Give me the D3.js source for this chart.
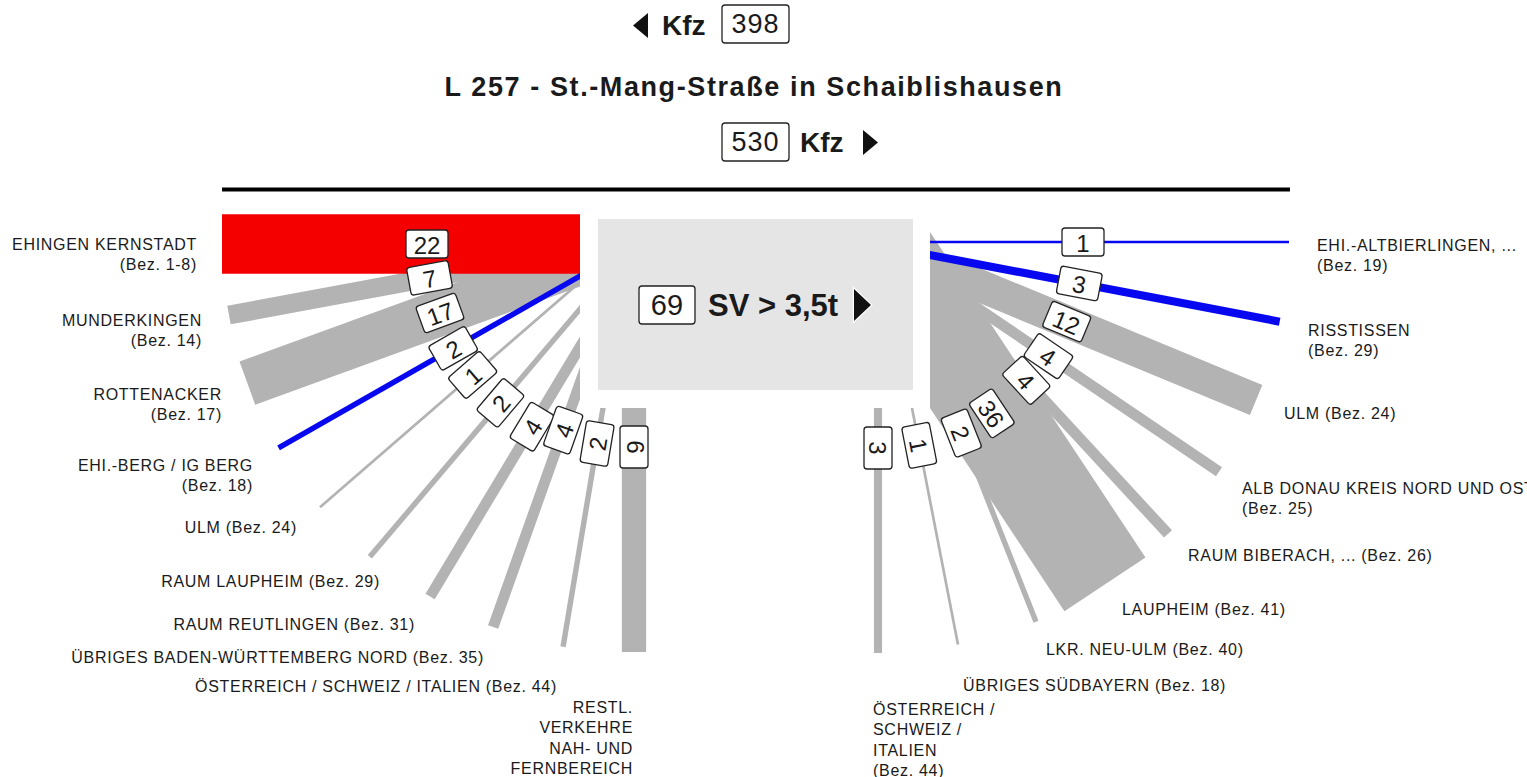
<!DOCTYPE html>
<html>
<head>
<meta charset="utf-8">
<script src="https://cdn.jsdelivr.net/npm/d3@7"></script>
<style>
  body { margin: 0; background: #fff; }
  svg text { font-family: "Liberation Sans", Arial, Helvetica, sans-serif; fill: #1a1a1a; }
  .label { font-size: 16px; letter-spacing: 0.7px; }
  .val { font-size: 24px; }
  .head { font-weight: bold; }
</style>
</head>
<body>
<div id="canvas"></div>
<script>
// DATA
const kfzWest = 398;
const kfzEast = 530;
const svEast = 69;
const titleText = "L 257 - St.-Mang-Straße in Schaiblishausen";

const leftNames = [
  ["EHINGEN KERNSTADT", "(Bez. 1-8)"],
  ["MUNDERKINGEN", "(Bez. 14)"],
  ["ROTTENACKER", "(Bez. 17)"],
  ["EHI.-BERG / IG BERG", "(Bez. 18)"],
  ["ULM (Bez. 24)"],
  ["RAUM LAUPHEIM (Bez. 29)"],
  ["RAUM REUTLINGEN (Bez. 31)"],
  ["ÜBRIGES BADEN-WÜRTTEMBERG NORD (Bez. 35)"],
  ["ÖSTERREICH / SCHWEIZ / ITALIEN (Bez. 44)"],
  ["RESTL.", "VERKEHRE", "NAH- UND", "FERNBEREICH"]
];
const leftValues = [22, 7, 17, 2, 1, 2, 4, 4, 2, 9];

const rightNames = [
  ["EHI.-ALTBIERLINGEN, ...", "(Bez. 19)"],
  ["RISSTISSEN", "(Bez. 29)"],
  ["ULM (Bez. 24)"],
  ["ALB DONAU KREIS NORD UND OST", "(Bez. 25)"],
  ["RAUM BIBERACH, ... (Bez. 26)"],
  ["LAUPHEIM (Bez. 41)"],
  ["LKR. NEU-ULM (Bez. 40)"],
  ["ÜBRIGES SÜDBAYERN (Bez. 18)"],
  ["ÖSTERREICH /", "SCHWEIZ /", "ITALIEN", "(Bez. 44)"]
];
const rightValues = [1, 3, 12, 4, 4, 36, 2, 1, 3];

// LAYOUT (hand placed fan geometry, kept apart from the values)
const width = 1527;
const height = 777;
const frame = { left: 580, right: 930, top: 214, bottom: 408 };

const leftStartAt = [30, 36, 48, 62, 68, 95, 133, 169, 217, 248];
const leftAngle = [180, 169.5, 160, 150.3, 139.1, 130.3, 121, 109.6, 99.5, 90];
const leftLength = [358, 357, 354, 347, 344, 325, 291, 259, 242, 244];
const leftBoxAt = [153, 153, 149, 146, 142, 123, 93, 50, 36, 39];
const leftLabelPos = [[197, 244], [202, 320], [222, 394], [253, 465], [297, 527],
  [380, 581], [415, 624], [484, 657], [557, 686], [633, 707]];

const rightStartAt = [28, 41, 51, 62, 62, 106, 140, 212, 246];
const rightAngle = [0, 10.8, 22.5, 34.1, 47.3, 56.5, 68.4, 79, 90];
const rightLength = [359, 356, 353, 349, 351, 317, 288, 241, 245];
const rightBoxAt = [153, 152, 148, 143, 142, 112, 85, 38, 40];
const rightLabelPos = [[1317, 245], [1308, 330], [1284, 413], [1242, 488], [1188, 555],
  [1122, 609], [1046, 649], [963, 685], [873, 709]];

// STYLE
const GREY = "#b3b3b3", RED = "#f40000", BLUE = "#0808f0";
const leftColor = [RED, GREY, GREY, BLUE, GREY, GREY, GREY, GREY, GREY, GREY];
const rightColor = [BLUE, BLUE, GREY, GREY, GREY, GREY, GREY, GREY, GREY];
const colorRank = c => (c === GREY ? 0 : 1);

// SCALE
const widthScale = d3.scaleLinear()
  .domain([0, d3.max(leftValues.concat(rightValues))])
  .range([0, 2.7 * d3.max(leftValues.concat(rightValues))]);

const side = frame.bottom - frame.top;
function leftStart(p) {
  return p <= side ? [frame.left, frame.top + p] : [frame.left + (p - side), frame.bottom];
}
function rightStart(p) {
  return p <= side ? [frame.right, frame.top + p] : [frame.right - (p - side), frame.bottom];
}

function buildBands(names, values, startAt, angles, lengths, boxAt, colors, startFn, isLeft) {
  return values.map((v, i) => {
    const a = angles[i] * Math.PI / 180;
    const dir = [Math.cos(a), Math.sin(a)];
    const nrm = [-dir[1], dir[0]];
    const s = startFn(startAt[i]);
    const back = [s[0] - dir[0] * 90, s[1] - dir[1] * 90];
    const e = [s[0] + dir[0] * lengths[i], s[1] + dir[1] * lengths[i]];
    const h = widthScale(v) / 2;
    const poly = [
      [back[0] + nrm[0] * h, back[1] + nrm[1] * h],
      [e[0] + nrm[0] * h, e[1] + nrm[1] * h],
      [e[0] - nrm[0] * h, e[1] - nrm[1] * h],
      [back[0] - nrm[0] * h, back[1] - nrm[1] * h]
    ];
    const box = [s[0] + dir[0] * boxAt[i], s[1] + dir[1] * boxAt[i]];
    const rot = isLeft ? angles[i] - 180 : angles[i];
    return { name: names[i], value: v, poly, box, rot, color: colors[i] };
  });
}

const leftBands = buildBands(leftNames, leftValues, leftStartAt, leftAngle, leftLength,
  leftBoxAt, leftColor, leftStart, true);
const rightBands = buildBands(rightNames, rightValues, rightStartAt, rightAngle, rightLength,
  rightBoxAt, rightColor, rightStart, false);
const allBands = leftBands.concat(rightBands);

// CANVAS
const svg = d3.select("#canvas").append("svg")
  .attr("width", width)
  .attr("height", height)
  .style("display", "block");

// clip: everything outside the frame around the centre box
svg.append("defs").append("clipPath").attr("id", "outside")
  .append("path")
  .attr("clip-rule", "evenodd")
  .attr("d", `M0,0H${width}V${height}H0Z M${frame.left},0H${frame.right}V${frame.bottom}H${frame.left}Z`);

// HEADER
const head = svg.append("g");
const boxW = 67, boxH = 38;

head.append("path").attr("d", "M633,25.5L648,13L648,38Z").attr("fill", "#111");
head.append("text").attr("class", "head").attr("x", 662).attr("y", 35)
  .style("font-size", "28px").text("Kfz");
head.append("rect").attr("x", 722).attr("y", 5).attr("width", boxW).attr("height", boxH)
  .attr("rx", 3).attr("fill", "#fff").attr("stroke", "#222").attr("stroke-width", 1.3);
head.append("text").attr("x", 722 + boxW / 2).attr("y", 24).attr("text-anchor", "middle")
  .attr("dominant-baseline", "central").style("font-size", "27px").style("letter-spacing", "1px")
  .text(kfzWest);

head.append("text").attr("class", "head").attr("x", 754).attr("y", 96)
  .attr("text-anchor", "middle").style("font-size", "27px").style("letter-spacing", "1.6px")
  .text(titleText);

head.append("rect").attr("x", 722).attr("y", 123).attr("width", boxW).attr("height", boxH)
  .attr("rx", 3).attr("fill", "#fff").attr("stroke", "#222").attr("stroke-width", 1.3);
head.append("text").attr("x", 722 + boxW / 2).attr("y", 142).attr("text-anchor", "middle")
  .attr("dominant-baseline", "central").style("font-size", "27px").style("letter-spacing", "1px")
  .text(kfzEast);
head.append("text").attr("class", "head").attr("x", 800).attr("y", 152)
  .style("font-size", "28px").text("Kfz");
head.append("path").attr("d", "M863,130L878,142.5L863,155Z").attr("fill", "#111");

head.append("line").attr("x1", 222).attr("x2", 1290).attr("y1", 189.5).attr("y2", 189.5)
  .attr("stroke", "#000").attr("stroke-width", 4);

// CENTRE BOX
const centre = svg.append("g");
centre.append("rect").attr("x", 598).attr("y", 219).attr("width", 315).attr("height", 171)
  .attr("fill", "#e5e5e5");
centre.append("rect").attr("x", 639).attr("y", 286).attr("width", 56).attr("height", 38)
  .attr("rx", 3).attr("fill", "#fff").attr("stroke", "#222").attr("stroke-width", 1.3);
centre.append("text").attr("x", 667).attr("y", 305).attr("text-anchor", "middle")
  .attr("dominant-baseline", "central").style("font-size", "29px").text(svEast);
centre.append("text").attr("class", "head").attr("x", 708).attr("y", 316)
  .style("font-size", "31px").text("SV > 3,5t");
centre.append("path").attr("d", "M854,289L871,305L854,321Z").attr("fill", "#111")
  .attr("stroke", "#fff").attr("stroke-width", 2.5).attr("paint-order", "stroke");

// BANDS
const line = d3.line().curve(d3.curveLinearClosed);
svg.append("g").attr("clip-path", "url(#outside)")
  .selectAll("path")
  .data(allBands.slice().sort((a, b) => colorRank(a.color) - colorRank(b.color)))
  .join("path")
  .attr("d", d => line(d.poly))
  .attr("fill", d => d.color);

// VALUE BOXES
const bw = 42, bh = 28;
const boxes = svg.append("g").selectAll("g")
  .data(allBands)
  .join("g")
  .attr("transform", d => `translate(${d.box[0]},${d.box[1]}) rotate(${d.rot})`);
boxes.append("rect")
  .attr("x", -bw / 2).attr("y", -bh / 2).attr("width", bw).attr("height", bh)
  .attr("rx", 3).attr("fill", "#fff").attr("stroke", "#222").attr("stroke-width", 1.3);
boxes.append("text")
  .attr("class", "val")
  .attr("text-anchor", "middle")
  .attr("dominant-baseline", "central")
  .attr("y", 1)
  .text(d => d.value);

// LABELS
function drawLabels(names, pos, anchor, spacing) {
  const g = svg.append("g").attr("class", "label");
  names.forEach((lines, i) => {
    const t = g.append("text")
      .attr("class", "label")
      .attr("text-anchor", anchor)
      .attr("x", pos[i][0])
      .attr("y", pos[i][1])
      .attr("dominant-baseline", "central");
    lines.forEach((ln, j) => {
      t.append("tspan").attr("x", pos[i][0]).attr("dy", j === 0 ? 0 : spacing).text(ln);
    });
  });
}
drawLabels(leftNames, leftLabelPos, "end", 20.3);
drawLabels(rightNames, rightLabelPos, "start", 20.3);
</script>
</body>
</html>
